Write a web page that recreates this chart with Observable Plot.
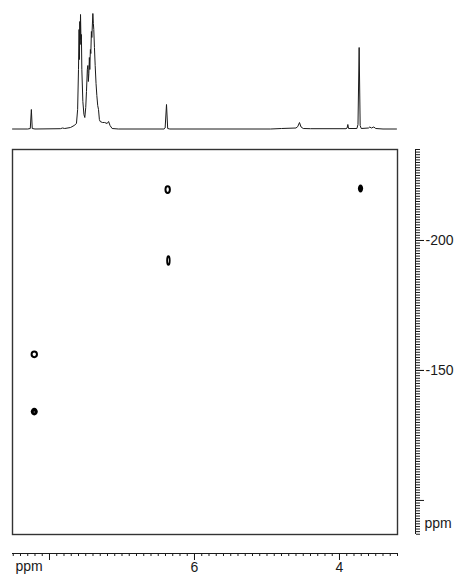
<!DOCTYPE html>
<html>
<head>
<meta charset="utf-8">
<script src="https://cdn.jsdelivr.net/npm/d3@7"></script>
<script src="https://cdn.jsdelivr.net/npm/@observablehq/plot@0.6"></script>
<style>
  html, body { margin: 0; padding: 0; background: #fff; }
  #chart svg { display: block; }
</style>
</head>
<body>
<div id="chart"></div>
<script>
// 1D proton spectrum trace (ppm, relative intensity)
const specPpm = [8.51, 8.30, 8.265, 8.25, 8.238, 8.20, 7.85, 7.82, 7.79, 7.71, 7.66, 7.628, 7.612, 7.60, 7.592, 7.587, 7.582, 7.577, 7.572, 7.566, 7.560, 7.554, 7.540, 7.525, 7.513, 7.500, 7.490, 7.478, 7.471, 7.464, 7.457, 7.450, 7.444, 7.436, 7.430, 7.422, 7.416, 7.402, 7.395, 7.389, 7.380, 7.370, 7.358, 7.347, 7.335, 7.324, 7.312, 7.301, 7.270, 7.240, 7.205, 7.185, 7.165, 7.136, 7.05, 6.42, 6.405, 6.386, 6.37, 6.34, 4.95, 4.80, 4.60, 4.575, 4.552, 4.53, 4.50, 4.40, 3.91, 3.895, 3.885, 3.875, 3.76, 3.745, 3.729, 3.715, 3.70, 3.60, 3.582, 3.56, 3.527, 3.50, 3.40, 3.214];
const specInt = [0.5, 0.5, 1, 20, 1, 0.5, 0.8, 1.5, 1, 2, 4, 6, 20, 60, 100, 70, 108, 85, 115, 90, 95, 60, 28, 15, 12, 22, 38, 60, 64, 48, 56, 72, 60, 80, 76, 98, 92, 116, 106, 100, 82, 64, 46, 34, 24, 20, 10, 8, 7, 7, 6, 8, 4, 1, 0.5, 0.5, 1.5, 25, 1, 0.5, 0.5, 1, 1.5, 3, 7, 2.5, 1, 0.8, 0.8, 1.5, 5, 1, 1, 5, 82, 4, 1, 1.5, 2.5, 1.5, 2.5, 1, 0.5, 0.5];

// 2D cross peaks
const peakX = [6.37, 6.36, 3.71, 8.21, 8.21];
const peakY = [-219.6, -192.3, -220, -156.2, -134.2];
const peakKind = ["ring", "ringTall", "filled", "ringRound", "filledMark"];

// axis ticks
const xMajorTicks = [8, 6, 4];
const xLabelTicks = [6, 4];
const yMajorTicks = [-200, -150, -100];
const yLabelTicks = [-200, -150];
const axisUnit = "ppm";

const spectrum = specPpm.map((p, i) => ({ppm: p, intensity: specInt[i]}));
const peaks = peakX.map((x, i) => ({x, y: peakY[i], kind: peakKind[i]}));

const ellipse = (ax, ay) => ({
  draw(ctx, size) {
    const r = Math.sqrt(size / Math.PI), rx = r * ax, ry = r * ay, k = 0.5523;
    ctx.moveTo(rx, 0);
    ctx.bezierCurveTo(rx, ry * k, rx * k, ry, 0, ry);
    ctx.bezierCurveTo(-rx * k, ry, -rx, ry * k, -rx, 0);
    ctx.bezierCurveTo(-rx, -ry * k, -rx * k, -ry, 0, -ry);
    ctx.bezierCurveTo(rx * k, -ry, rx, -ry * k, rx, 0);
    ctx.closePath();
  }
});

const xDomain = [8.5103, 3.2];
const font = "Liberation Sans, Arial, sans-serif";
const ink = "#1a1a1a";

const specPlot = Plot.plot({
  width: 464, height: 140,
  marginLeft: 12, marginRight: 67, marginTop: 10, marginBottom: 11,
  x: {domain: xDomain, axis: null},
  y: {domain: [0, 119], axis: null},
  marks: [
    Plot.line(spectrum, {x: "ppm", y: "intensity", stroke: ink, strokeWidth: 1, curve: "linear"})
  ]
});

const mainPlot = Plot.plot({
  width: 464, height: 436,
  marginLeft: 12, marginRight: 67, marginTop: 9, marginBottom: 42,
  style: {fontFamily: font, fontSize: "14px", color: ink, background: "#fff"},
  x: {domain: xDomain, label: null},
  y: {domain: [-86.9, -235], label: null},
  marks: [
    Plot.frame({stroke: "#333", strokeWidth: 1.4}),
    // x axis (offset below frame)
    Plot.ruleY([-86.9], {dy: 19, stroke: ink, strokeWidth: 1}),
    Plot.axisX({anchor: "bottom", interval: 0.1, tickSize: 3, text: null, label: null, dy: 19, stroke: ink}),
    Plot.axisX(xMajorTicks, {anchor: "bottom", tickSize: 7, text: null, label: null, dy: 19, stroke: ink}),
    Plot.axisX(xLabelTicks, {anchor: "bottom", tickSize: 7, tickPadding: 2, tickFormat: d => String(d), label: null, dy: 19, stroke: ink, fill: ink, fontSize: 14}),
    Plot.text([axisUnit], {frameAnchor: "bottom-left", dx: 3, dy: 32, lineAnchor: "middle", textAnchor: "start", fill: ink, fontSize: 14}),
    // y axis (offset right of frame)
    Plot.ruleX([3.2], {dx: 18, stroke: ink, strokeWidth: 1}),
    Plot.axisY({anchor: "right", interval: 1, tickSize: 4, text: null, label: null, dx: 18, stroke: ink}),
    Plot.axisY(yMajorTicks, {anchor: "right", tickSize: 8, text: null, label: null, dx: 18, stroke: ink}),
    Plot.axisY(yLabelTicks, {anchor: "right", tickSize: 8, tickPadding: 2, tickFormat: d => String(d), label: null, dx: 18, stroke: ink, fill: ink, fontSize: 14}),
    Plot.text([axisUnit], {frameAnchor: "bottom-right", dx: 27, dy: -11, lineAnchor: "middle", textAnchor: "start", fill: ink, fontSize: 14}),
    // cross peaks
    Plot.dot(peaks.filter(d => d.kind === "ring"), {x: "x", y: "y", r: 1, symbol: ellipse(2.2, 3.4), stroke: "#000", strokeWidth: 2, fill: "none"}),
    Plot.dot(peaks.filter(d => d.kind === "ringTall"), {x: "x", y: "y", r: 1, symbol: ellipse(1.3, 4.4), stroke: "#000", strokeWidth: 1.8, fill: "none"}),
    Plot.dot(peaks.filter(d => d.kind === "ringRound"), {x: "x", y: "y", r: 1, symbol: ellipse(2.7, 2.8), stroke: "#000", strokeWidth: 2, fill: "none"}),
    Plot.dot(peaks.filter(d => d.kind === "filled"), {x: "x", y: "y", r: 1, symbol: ellipse(2.6, 4), fill: "#000", stroke: "none"}),
    Plot.dot(peaks.filter(d => d.kind === "filledMark"), {x: "x", y: "y", r: 1, symbol: ellipse(3.5, 3.9), fill: "#000", stroke: "none"}),
    Plot.dot(peaks.filter(d => d.kind === "filledMark"), {x: "x", y: "y", r: 0.7, fill: "#777", stroke: "none", dy: 0.5})
  ]
});

document.getElementById("chart").append(specPlot, mainPlot);
</script>
</body>
</html>
